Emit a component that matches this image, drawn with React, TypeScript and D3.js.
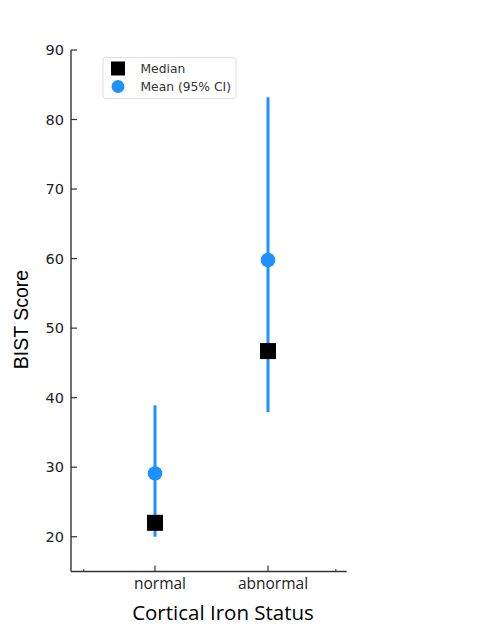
import * as React from "react";
import * as d3 from "d3";

// values
const categories = ["normal", "abnormal"];
const medians = [22, 46.7];
const means = [29.1, 59.8];
const ciLow = [20, 37.9];
const ciHigh = [38.9, 83.2];
const yTicks = [20, 30, 40, 50, 60, 70, 80, 90];
const minorX = [-0.63, 1.6];

const W = 497;
const H = 624;
const blue = "#1E90FF";

export default function App() {
  const left = 71;
  const right = 346.7;
  const top = 50;
  const bottom = 571.5;

  const y = d3.scaleLinear().domain([15, 90]).range([bottom, top]);
  const x = d3.scaleLinear().domain([0, 1]).range([155, 268]);

  return (
    <svg
      width={W}
      height={H}
      style={{ position: "absolute", left: 0, top: 0 }}
      fontFamily="DejaVu Sans"
    >
      <rect width={W} height={H} fill="#fff" />

      {/* spines */}
      <line x1={left} x2={left} y1={top} y2={bottom} stroke="#333" strokeWidth={1.4} />
      <line x1={left} x2={right} y1={bottom} y2={bottom} stroke="#333" strokeWidth={1.4} />

      {yTicks.map((t) => (
        <g key={t}>
          <line x1={left} x2={left + 6} y1={y(t)} y2={y(t)} stroke="#333" strokeWidth={1.2} />
          <text x={64} y={y(t)} dy="0.36em" textAnchor="end" fontSize={14.5} fill="#222">
            {t}
          </text>
        </g>
      ))}

      {categories.map((c, i) => (
        <g key={c}>
          <line x1={x(i)} x2={x(i)} y1={bottom} y2={bottom - 6} stroke="#333" strokeWidth={1.2} />
          <text
            x={x(i) + 5}
            y={588.5}
            textAnchor="middle"
            fontSize={15.5}
            fontFamily="Open Sans"
            fill="#222"
          >
            {c}
          </text>
        </g>
      ))}
      {minorX.map((m) => (
        <line key={m} x1={x(m)} x2={x(m)} y1={bottom} y2={bottom - 2.5} stroke="#333" strokeWidth={1} />
      ))}

      {/* CI lines */}
      {categories.map((c, i) => (
        <line
          key={c}
          x1={x(i)}
          x2={x(i)}
          y1={y(ciLow[i])}
          y2={y(ciHigh[i])}
          stroke={blue}
          strokeWidth={3}
        />
      ))}
      {means.map((m, i) => (
        <circle key={i} cx={x(i)} cy={y(m)} r={7.3} fill={blue} />
      ))}
      {medians.map((m, i) => (
        <rect key={i} x={x(i) - 8} y={y(m) - 8} width={16} height={16} fill="#000" />
      ))}

      {/* legend */}
      <rect x={103} y={57.5} width={133} height={41} rx={3} fill="#fff" stroke="#ddd" strokeWidth={1} />
      <rect x={111} y={61.5} width={14} height={14} fill="#000" />
      <circle cx={118} cy={86.5} r={6.5} fill={blue} />
      <text x={140.5} y={72.5} fontSize={12.3} fill="#333">Median</text>
      <text x={140.5} y={91} fontSize={12.3} fill="#333">Mean (95% CI)</text>

      {/* axis titles */}
      <text
        transform="translate(27.5,319.5) rotate(-90)"
        textAnchor="middle"
        fontSize={19.5}
        fontFamily="Liberation Sans"
        fill="#000"
      >
        BIST Score
      </text>
      <text x={223} y={619.5} textAnchor="middle" fontSize={20.5} fontFamily="Open Sans" fill="#000">
        Cortical Iron Status
      </text>
    </svg>
  );
}
